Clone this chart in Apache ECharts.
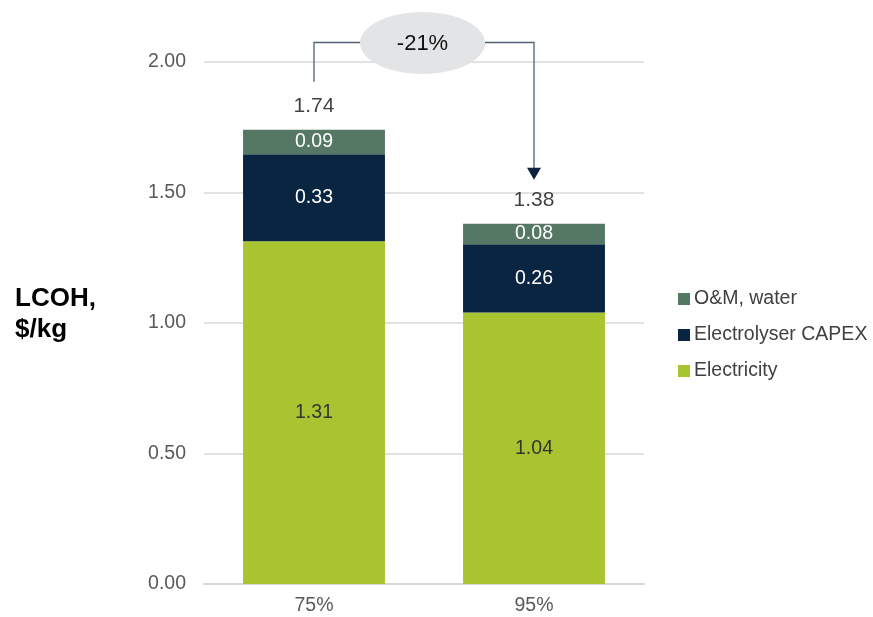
<!DOCTYPE html>
<html>
<head>
<meta charset="utf-8">
<script src="https://cdn.jsdelivr.net/npm/echarts@6/dist/echarts.min.js"></script>
<style>
  html, body { margin: 0; padding: 0; background: #ffffff; }
  #chart { width: 873px; height: 617px; }
</style>
</head>
<body>
<div id="chart"></div>
<script>
// Utilisation scenarios (x axis)
const categories = ['75%', '95%'];
// LCOH components, $/kg
const electricity = [1.313, 1.04];
const electrolyserCapex = [0.334, 0.262];
const omWater = [0.093, 0.078];
// Totals per scenario
const totals = [1.74, 1.38];
// Change between scenarios
const changeLabel = '-21%';
// Value axis ticks
const yTicks = [0, 0.5, 1.0, 1.5, 2.0];

const FONT = '"Liberation Sans", Arial, sans-serif';
const COLORS = {
  electricity: '#a9c431',
  capex: '#092542',
  om: '#547864'
};

const chart = echarts.init(document.getElementById('chart'), null, { renderer: 'canvas' });

function segLabel(color) {
  return {
    show: true,
    position: 'inside',
    color: color,
    fontFamily: FONT,
    fontSize: 19.5,
    formatter: p => p.value.toFixed(2)
  };
}

const option = {
  backgroundColor: '#ffffff',
  animation: false,
  grid: { left: 204, right: 229, top: 62, bottom: 33 },
  legend: {
    orient: 'vertical',
    left: 678,
    top: 289,
    padding: 0,
    itemWidth: 12,
    itemHeight: 12,
    itemGap: 16,
    icon: 'rect',
    data: ['O&M, water', 'Electrolyser CAPEX', 'Electricity'],
    textStyle: { fontFamily: FONT, fontSize: 19.5, color: '#404040', padding: [0, 0, 0, -1] }
  },
  xAxis: {
    type: 'category',
    data: categories,
    axisLine: { show: true, lineStyle: { color: '#d9d9d9', width: 2 } },
    axisTick: { show: false },
    axisLabel: { fontFamily: FONT, fontSize: 19.5, color: '#595959', margin: 12 }
  },
  yAxis: {
    type: 'value',
    min: yTicks[0],
    max: yTicks[yTicks.length - 1],
    interval: yTicks[1] - yTicks[0],
    axisLine: { show: false },
    axisTick: { show: false },
    splitLine: { lineStyle: { color: '#d9d9d9', width: 1.5 } },
    axisLabel: {
      fontFamily: FONT, fontSize: 19.5, color: '#595959', margin: 18,
      formatter: v => v.toFixed(2)
    }
  },
  series: [
    {
      name: 'Electricity', type: 'bar', stack: 'lcoh', barWidth: '64.5%',
      data: electricity, itemStyle: { color: COLORS.electricity },
      label: segLabel('#333333')
    },
    {
      name: 'Electrolyser CAPEX', type: 'bar', stack: 'lcoh',
      data: electrolyserCapex, itemStyle: { color: COLORS.capex },
      label: segLabel('#ffffff')
    },
    {
      name: 'O&M, water', type: 'bar', stack: 'lcoh',
      data: omWater, itemStyle: { color: COLORS.om },
      label: segLabel('#ffffff')
    },
    {
      name: 'Total', type: 'scatter', data: totals, symbolSize: 0,
      silent: true,
      label: {
        show: true, position: 'top', distance: 13,
        fontFamily: FONT, fontSize: 21, color: '#111111',
        formatter: p => p.value.toFixed(2)
      }
    }
  ]
};

chart.setOption(option);

// Connector with the percentage-change bubble between the two totals
function drawConnector() {
  const p0 = chart.convertToPixel({ seriesIndex: 3 }, [0, totals[0]]);
  const p1 = chart.convertToPixel({ seriesIndex: 3 }, [1, totals[1]]);
  const lineY = 42.5;
  const cx = (p0[0] + p1[0]) / 2 - 1.5;
  const rx = 62.5, ry = 31;
  const lineColor = '#4f6077';
  const startY = p0[1] - 48;       // just above the first total label
  const tipY = p1[1] - 44;         // arrow tip just above the second total label
  chart.setOption({
    graphic: [
      {
        type: 'polyline', silent: true,
        shape: { points: [[p0[0], startY], [p0[0], lineY], [cx - rx, lineY]] },
        style: { stroke: lineColor, lineWidth: 1.3, fill: null }
      },
      {
        type: 'polyline', silent: true,
        shape: { points: [[cx + rx, lineY], [p1[0], lineY], [p1[0], tipY - 10]] },
        style: { stroke: lineColor, lineWidth: 1.3, fill: null }
      },
      {
        type: 'polygon', silent: true,
        shape: { points: [[p1[0] - 7, tipY - 12], [p1[0] + 7, tipY - 12], [p1[0], tipY]] },
        style: { fill: '#0b2340' }
      },
      {
        type: 'ellipse', silent: true,
        shape: { cx: cx, cy: 43, rx: rx, ry: ry },
        style: { fill: '#e3e4e6', stroke: null }
      },
      {
        type: 'text', silent: true,
        x: cx, y: 43.5,
        style: {
          text: changeLabel, fontFamily: FONT, fontSize: 22, fill: '#111111',
          align: 'center', verticalAlign: 'middle'
        }
      },
      {
        type: 'text', silent: true,
        left: 15, top: 283,
        style: {
          text: 'LCOH,\n$/kg', fontFamily: FONT, fontSize: 26, fontWeight: 'bold',
          fill: '#000000', lineHeight: 31
        }
      }
    ]
  });
}
drawConnector();
</script>
</body>
</html>
